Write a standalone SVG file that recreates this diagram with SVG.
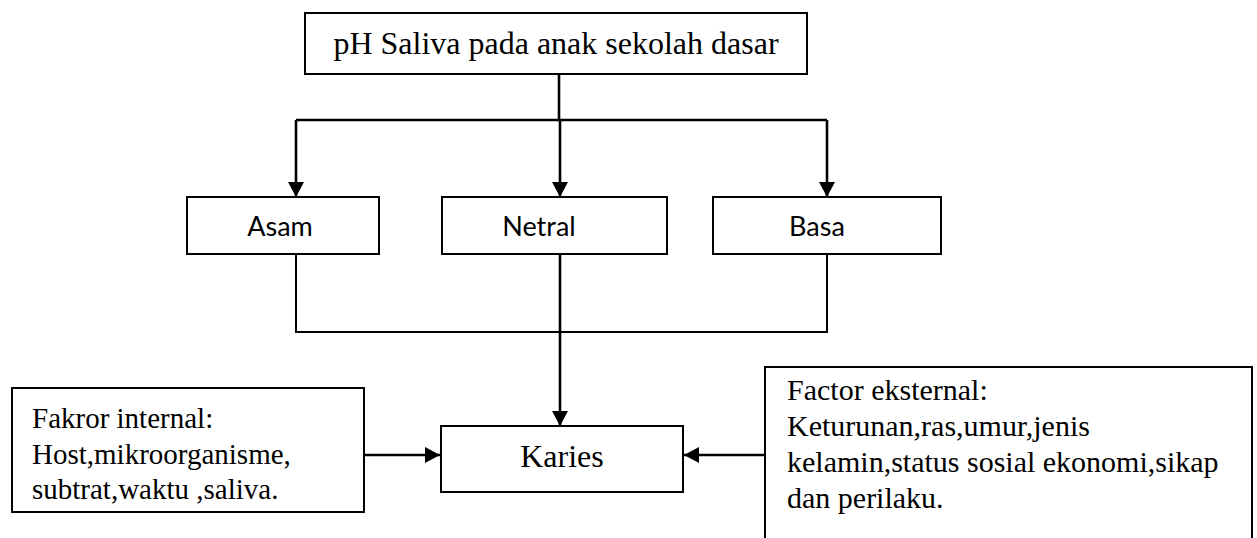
<svg xmlns="http://www.w3.org/2000/svg" width="1257" height="538" viewBox="0 0 1257 538">
<defs>
<style>
.box{fill:#fff;stroke:#000;stroke-width:2}
.ln{fill:none;stroke:#000;stroke-width:2}
.la{fill:none;stroke:#000;stroke-width:2.6}
.tr{font-family:"Liberation Serif","Times New Roman",serif;fill:#000}
.sn{font-family:Lato,"Liberation Sans",sans-serif;font-size:27px;fill:#000}
</style>
<marker id="ah" markerUnits="userSpaceOnUse" markerWidth="16" markerHeight="16" refX="15" refY="8" orient="auto">
<path d="M0,0 L15,8 L0,16 Z" fill="#000"/>
</marker>
</defs>
<rect width="1257" height="538" fill="#fff"/>
<g id="connectors">
<path class="la" d="M559,74 V120"/>
<path class="la" d="M296,120 H827"/>
<path class="la" d="M296,120 V197" marker-end="url(#ah)"/>
<path class="la" d="M560,120 V197" marker-end="url(#ah)"/>
<path class="la" d="M827,120 V197" marker-end="url(#ah)"/>
<path class="ln" d="M296,254 V332 H827 V254"/>
<path class="la" d="M560,254 V426" marker-end="url(#ah)"/>
<path class="la" d="M364,455 H440" marker-end="url(#ah)"/>
<path class="la" d="M765,455 H684" marker-end="url(#ah)"/>
</g>
<g id="title">
<rect class="box" x="305" y="13" width="502" height="61"/>
<text class="tr" x="556" y="54" font-size="32" text-anchor="middle">pH Saliva pada anak sekolah dasar</text>
</g>
<g id="asam">
<rect class="box" x="187" y="197" width="192" height="57"/>
<text class="sn" x="280" y="236" text-anchor="middle">Asam</text>
</g>
<g id="netral">
<rect class="box" x="442" y="197" width="225" height="57"/>
<text class="sn" x="539" y="236" text-anchor="middle">Netral</text>
</g>
<g id="basa">
<rect class="box" x="713" y="197" width="228" height="57"/>
<text class="sn" x="817" y="236" text-anchor="middle">Basa</text>
</g>
<g id="karies">
<rect class="box" x="441" y="426" width="242" height="66"/>
<text class="tr" x="562" y="467" font-size="32" text-anchor="middle">Karies</text>
</g>
<g id="internal">
<rect class="box" x="12" y="388" width="352" height="124"/>
<text class="tr" font-size="29"><tspan x="32" y="428">Fakror internal:</tspan><tspan x="32" y="464">Host,mikroorganisme,</tspan><tspan x="32" y="499">subtrat,waktu ,saliva.</tspan></text>
</g>
<g id="external">
<rect class="box" x="765" y="367" width="487" height="190"/>
<text class="tr" font-size="30"><tspan x="787" y="400">Factor eksternal:</tspan><tspan x="787" y="436">Keturunan,ras,umur,jenis</tspan><tspan x="787" y="472">kelamin,status sosial ekonomi,sikap</tspan><tspan x="787" y="508">dan perilaku.</tspan></text>
</g>
</svg>
